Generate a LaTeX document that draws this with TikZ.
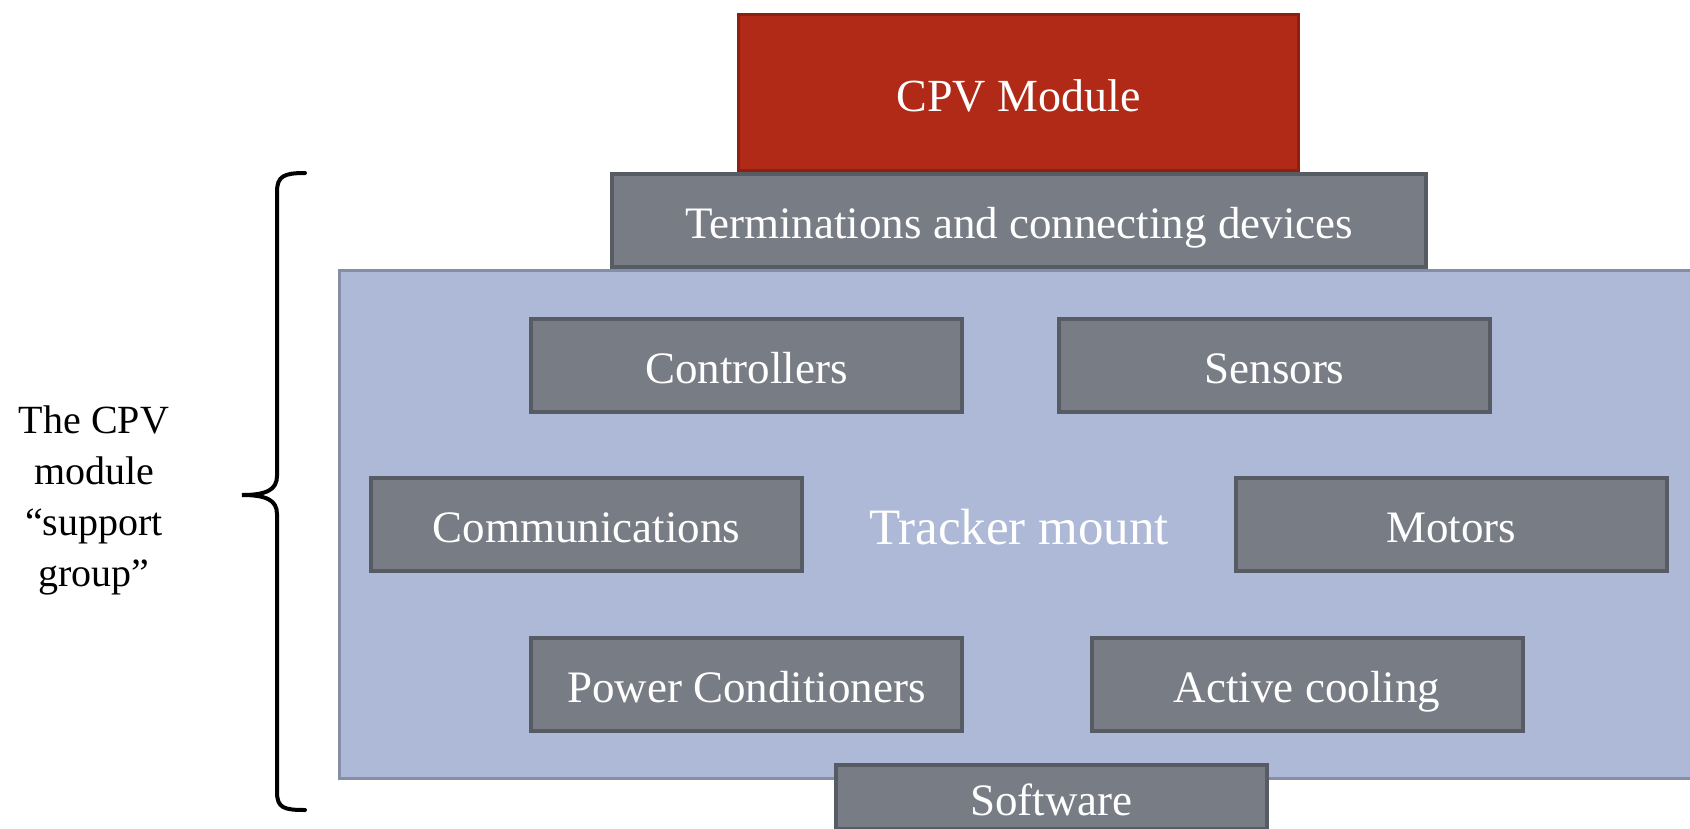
\documentclass[tikz,border=0pt]{standalone}
\usepackage{fontspec}
\setmainfont{Liberation Serif}
\usepackage{tikz}

\definecolor{modfill}{RGB}{176,42,23}
\definecolor{modline}{RGB}{138,33,17}
\definecolor{partfill}{RGB}{120,124,133}
\definecolor{partline}{RGB}{87,91,99}
\definecolor{mountfill}{RGB}{173,185,214}
\definecolor{mountline}{RGB}{132,143,167}

\begin{document}
\begin{tikzpicture}[x=1pt,y=-1pt,
   part/.style={draw=partline,fill=partfill,line width=4pt,rectangle,
      minimum width=431pt,minimum height=93pt,inner sep=0pt,
      text height=36pt,text depth=0pt,
      text=white,font=\fontsize{45}{54}\selectfont},
   module/.style={draw=modline,fill=modfill,line width=3pt,rectangle,
      minimum width=560pt,minimum height=156pt,inner sep=0pt,
      text height=37pt,text depth=0pt,
      text=white,font=\fontsize{46}{55}\selectfont},
   mount/.style={draw=mountline,fill=mountfill,line width=3pt,rectangle,
      minimum width=1359pt,minimum height=508pt,inner sep=0pt,
      text height=40pt,text depth=0pt,
      text=white,font=\fontsize{51}{61}\selectfont},
   brace/.style={line width=4pt,line cap=round}]
\useasboundingbox (0,0) rectangle (1690,828);
\node[module] (cpv) at (1018.5,92.5) {CPV Module};
\node[mount] (mount) at (1019,524.5) {Tracker mount};
\node[part,minimum width=814pt] (term) at (1019,220.5)
   {Terminations and connecting devices};
\foreach \n/\x/\y/\t in %
{ctrl/746.5/365.5/Controllers,sens/1274.5/365.5/Sensors,
 comm/586.5/524.5/Communications,motor/1451/524.5/Motors,
 power/746.5/684.5/Power Conditioners,cool/1307/684.5/Active cooling} {
   \node[part] (\n) at (\x,\y) {\t};
}
\node[part,minimum height=64pt] (soft) at (1051.5,797) {Software};
% the brace round the support group
\draw[brace] (305,173) .. controls (284,173) and (277,176) .. (277,192)
   -- (277,476) .. controls (277,490) and (266,495) .. (242,495)
   .. controls (266,495) and (277,500) .. (277,514)
   -- (277,792) .. controls (277,808) and (284,810) .. (305,810);
\node[align=center,font=\fontsize{40}{51}\selectfont] (group) at (94,500)
   {The CPV\\module\\“support\\group”};
\end{tikzpicture}
\end{document}
